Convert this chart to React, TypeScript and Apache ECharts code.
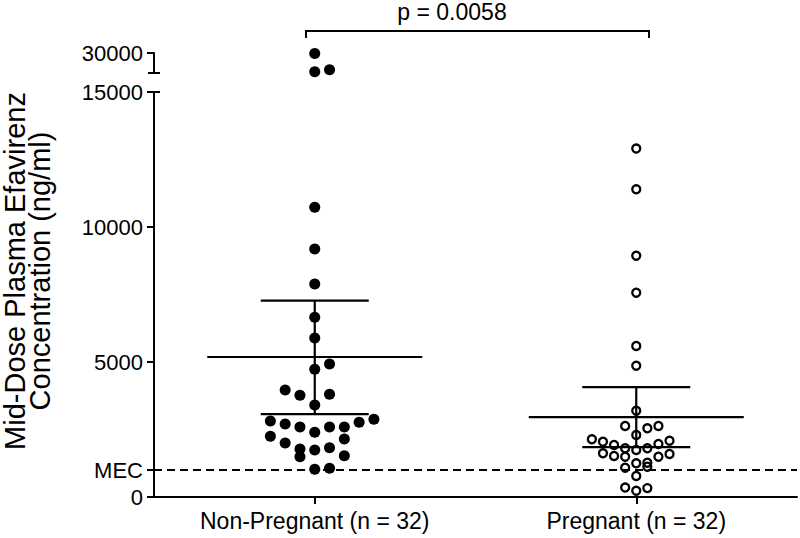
import React, { useEffect, useRef } from "react";
import * as echarts from "echarts";

// ---- data ----
const categories = ["Non-Pregnant (n = 32)", "Pregnant (n = 32)"];
const categoryPositions = [1, 3];

// Non-pregnant (filled) values, ng/ml, and beeswarm column index
const nonPregnantValues = [
  29800, 20600, 21600, 10730, 9185, 7890, 6655, 5890, 4926, 4730, 3963, 3767,
  3804, 3407, 2815, 2704, 2593, 2396, 2593, 2593, 2767, 2878, 2248, 2000, 1778,
  1741, 1826, 2148, 1493, 1530, 1026, 1063,
];
const nonPregnantColumns = [
  0, 0, 1, 0, 0, 0, 0, 0, 1, 0, -2, -1, 1, 0, -3, -2, -1, 0, 1, 2, 3, 4, -3,
  -2, -1, 0, 1, 2, -1, 2, 0, 1,
];

// Pregnant (open) values, ng/ml, and beeswarm column index
const pregnantValues = [
  12907, 11396, 8937, 7567, 5593, 4863, 3196, 2630, 2544, 2630, 2296, 2137,
  2048, 1926, 1804, 1741, 1804, 1963, 2085, 1619, 1519, 1493, 1493, 1593, 1248,
  1270, 1085, 1122, 778, 350, 230, 330,
];
const pregnantColumns = [
  0, 0, 0, 0, 0, 0, 0, -1, 1, 2, 0, -4, -3, -2, -1, 0, 1, 2, 3, -3, -2, -1, 2,
  3, 0, 1, -1, 1, 0, -1, 0, 1,
];

// mean with 95% CI
const means = [5185, 2960];
const ciLow = [3070, 1850];
const ciHigh = [7270, 4070];

const mecValue = 1000;
const pValueText = "p = 0.0058";
const lowerTicks = [0, 1000, 5000, 10000, 15000];
const upperTicks = [30000];
const lowerMax = 15000;
const upperMin = 20000;
const upperMax = 30000;
const yTitle = "Mid-Dose Plasma Efavirenz\nConcentration (ng/ml)";

// ---- style constants ----
const INK = "#000000";
const FONT = "'Liberation Sans', Arial, Helvetica, sans-serif";
const GRID_LEFT = 154;
const GRID_RIGHT = 3;
const LOWER_TOP = 92;
const LOWER_BOTTOM = 41;
const UPPER_TOP = 53;
const UPPER_HEIGHT = 20;
const NP_STEP = 0.092; // column spacing in x data units
const P_STEP = 0.069;

function toPoints(values: number[], cols: number[], cx: number, step: number) {
  return values.map((v, i) => [cx + cols[i] * step, v]);
}

export default function App() {
  const ref = useRef<HTMLDivElement>(null);
  useEffect(() => {
    if (!ref.current) return;
    document.body.style.margin = "0";
    const chart = echarts.init(ref.current, null, { renderer: "svg" });

    const np = toPoints(nonPregnantValues, nonPregnantColumns, categoryPositions[0], NP_STEP);
    const pg = toPoints(pregnantValues, pregnantColumns, categoryPositions[1], P_STEP);
    const lower = (arr: number[][]) => arr.filter((p) => p[1] <= lowerMax);
    const upper = (arr: number[][]) => arr.filter((p) => p[1] > lowerMax);

    const summary = categoryPositions.map((c, i) => [c, means[i], ciLow[i], ciHigh[i]]);

    const lineStyle = { stroke: INK, lineWidth: 2.2 };
    const filled = { color: INK, opacity: 1 };
    const open = { color: "transparent", borderColor: INK, borderWidth: 2.3, opacity: 1 };

    const option: any = {
      animation: false,
      backgroundColor: "#ffffff",
      grid: [
        { left: GRID_LEFT, right: GRID_RIGHT, top: LOWER_TOP, bottom: LOWER_BOTTOM },
        { left: GRID_LEFT, right: GRID_RIGHT, top: UPPER_TOP, height: UPPER_HEIGHT },
      ],
      xAxis: [
        {
          type: "value",
          gridIndex: 0,
          min: 0,
          max: 4,
          splitLine: { show: false },
          axisLine: { lineStyle: { color: INK, width: 2 } },
          axisTick: { customValues: categoryPositions, length: 7, lineStyle: { color: INK, width: 2 } },
          axisLabel: {
            customValues: categoryPositions,
            formatter: (v: number) => categories[categoryPositions.indexOf(v)] ?? "",
            color: INK,
            fontFamily: FONT,
            fontSize: 23,
            margin: 12,
          },
        },
        {
          type: "value",
          gridIndex: 1,
          min: 0,
          max: 4,
          show: false,
        },
      ],
      yAxis: [
        {
          type: "value",
          gridIndex: 0,
          min: 0,
          max: lowerMax,
          splitLine: { show: false },
          axisLine: { show: true, lineStyle: { color: INK, width: 2 } },
          axisTick: { show: true, customValues: lowerTicks, length: 7, lineStyle: { color: INK, width: 2 } },
          axisLabel: {
            customValues: lowerTicks,
            formatter: (v: number) => (v === mecValue ? "MEC" : String(v)),
            color: INK,
            fontFamily: FONT,
            fontSize: 22,
            margin: 11,
          },
        },
        {
          type: "value",
          gridIndex: 1,
          min: upperMin,
          max: upperMax,
          splitLine: { show: false },
          axisLine: { show: true, lineStyle: { color: INK, width: 2 } },
          axisTick: { show: true, customValues: upperTicks, length: 7, lineStyle: { color: INK, width: 2 } },
          axisLabel: {
            customValues: upperTicks,
            formatter: (v: number) => String(v),
            color: INK,
            fontFamily: FONT,
            fontSize: 22,
            margin: 11,
          },
        },
      ],
      series: [
        {
          type: "scatter",
          xAxisIndex: 0,
          yAxisIndex: 0,
          data: lower(np),
          symbol: "circle",
          symbolSize: 11,
          itemStyle: filled,
          emphasis: { disabled: true },
          markLine: {
            silent: true,
            symbol: "none",
            label: { show: false },
            lineStyle: { color: INK, width: 2, type: [8, 5] },
            data: [{ yAxis: mecValue }],
          },
          z: 3,
        },
        {
          type: "scatter",
          xAxisIndex: 1,
          yAxisIndex: 1,
          data: upper(np),
          symbol: "circle",
          symbolSize: 11,
          itemStyle: filled,
          emphasis: { disabled: true },
        },
        {
          type: "scatter",
          xAxisIndex: 0,
          yAxisIndex: 0,
          data: lower(pg),
          symbol: "circle",
          symbolSize: 8,
          itemStyle: open,
          emphasis: { disabled: true },
          z: 3,
        },
        {
          type: "custom",
          xAxisIndex: 0,
          yAxisIndex: 0,
          data: summary,
          z: 4,
          renderItem: (_params: any, api: any) => {
            const g = api.value(0);
            const c = api.coord([g, api.value(1)]);
            const lo = api.coord([g, api.value(2)]);
            const hi = api.coord([g, api.value(3)]);
            const wide = 107.5;
            const cap = 54;
            return {
              type: "group",
              children: [
                { type: "line", shape: { x1: c[0] - wide, y1: c[1], x2: c[0] + wide, y2: c[1] }, style: lineStyle },
                { type: "line", shape: { x1: lo[0], y1: lo[1], x2: hi[0], y2: hi[1] }, style: lineStyle },
                { type: "line", shape: { x1: hi[0] - cap, y1: hi[1], x2: hi[0] + cap, y2: hi[1] }, style: lineStyle },
                { type: "line", shape: { x1: lo[0] - cap, y1: lo[1], x2: lo[0] + cap, y2: lo[1] }, style: lineStyle },
              ],
            };
          },
        },
      ],
      graphic: [
        {
          type: "text",
          x: 27,
          y: 271,
          rotation: Math.PI / 2,
          style: {
            text: yTitle,
            fill: INK,
            font: `29px ${FONT}`,
            lineHeight: 25,
            align: "center",
            verticalAlign: "middle",
          },
        },
        // axis break caps
        {
          type: "line",
          shape: { x1: GRID_LEFT, y1: LOWER_TOP, x2: GRID_LEFT + 6, y2: LOWER_TOP },
          style: { stroke: INK, lineWidth: 2 },
        },
        {
          type: "line",
          shape: { x1: GRID_LEFT - 6, y1: UPPER_TOP + UPPER_HEIGHT, x2: GRID_LEFT + 6, y2: UPPER_TOP + UPPER_HEIGHT },
          style: { stroke: INK, lineWidth: 2 },
        },
        // significance bracket
        {
          type: "polyline",
          shape: { points: [[306, 38], [306, 31], [649, 31], [649, 38]] },
          style: { stroke: INK, lineWidth: 2, fill: null },
        },
        {
          type: "text",
          x: 452,
          y: 12,
          style: {
            text: pValueText,
            fill: INK,
            font: `23px ${FONT}`,
            align: "center",
            verticalAlign: "middle",
          },
        },
      ],
    };
    chart.setOption(option);
    return () => chart.dispose();
  }, []);
  return <div ref={ref} style={{ width: 800, height: 538 }} />;
}
